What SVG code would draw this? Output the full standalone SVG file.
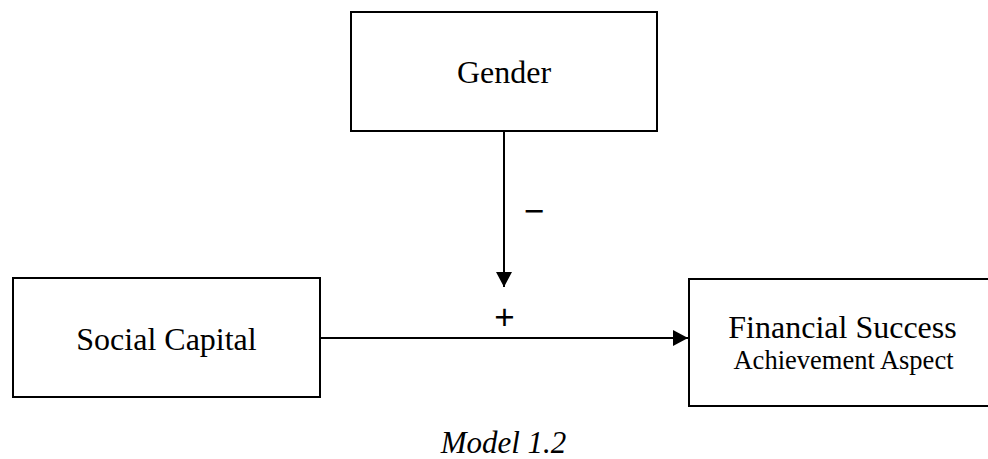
<svg xmlns="http://www.w3.org/2000/svg" width="988" height="459" viewBox="0 0 988 459">
<style>
.box{fill:#fff;stroke:#000;stroke-width:2}
.t{font-family:"Liberation Serif","Times New Roman",serif;fill:#000;text-anchor:middle}
.conn{stroke:#000;stroke-width:2;fill:none}
.lbl{font-family:"Liberation Sans",Arial,sans-serif;fill:#000;text-anchor:middle;font-size:35px}
</style>
<defs>
<marker id="ah" markerWidth="16" markerHeight="16" refX="15" refY="8" orient="auto" markerUnits="userSpaceOnUse">
<path d="M0,0 L15,8 L0,16 Z" fill="#000"/>
</marker>
</defs>
<rect width="988" height="459" fill="#fff"/>
<g id="gender">
<rect class="box" x="351" y="12" width="306" height="119"/>
<text class="t" x="504" y="83" font-size="32">Gender</text>
</g>
<g id="social-capital">
<rect class="box" x="13" y="278" width="307" height="119"/>
<text class="t" x="166.5" y="350" font-size="32">Social Capital</text>
</g>
<g id="financial-success">
<rect class="box" x="689" y="279" width="310" height="127"/>
<text class="t" x="842.5" y="338" font-size="32">Financial Success</text>
<text class="t" x="843.5" y="369" font-size="26.5">Achievement Aspect</text>
</g>
<g id="connectors">
<line class="conn" x1="320" y1="338" x2="688" y2="338" marker-end="url(#ah)"/>
<line class="conn" x1="504" y1="131" x2="504" y2="287" marker-end="url(#ah)"/>
<text class="lbl" x="534" y="223">−</text>
<text class="lbl" x="504.5" y="329">+</text>
</g>
<text class="t" x="503.5" y="453" font-size="31" font-style="italic">Model 1.2</text>
</svg>
